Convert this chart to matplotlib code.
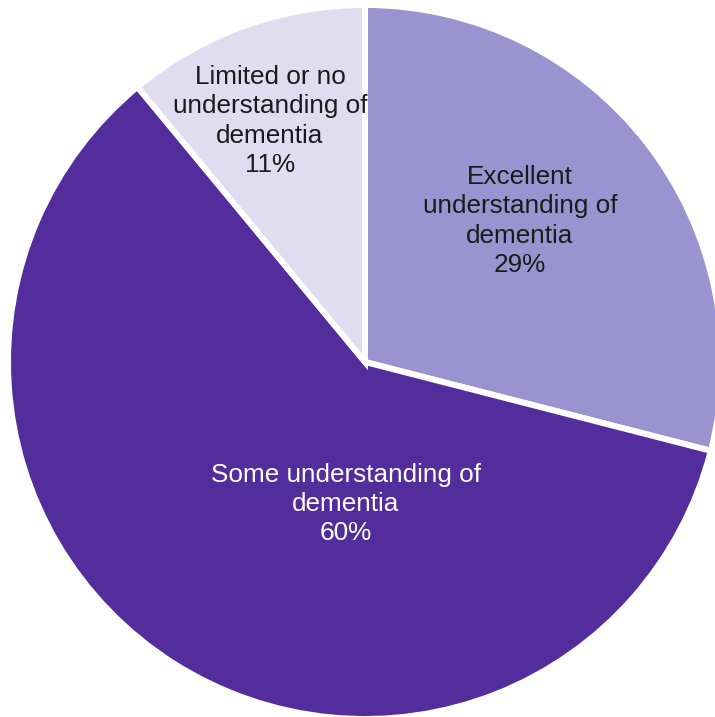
import matplotlib.pyplot as plt

labels = ['Excellent\nunderstanding of\ndementia', 'Some understanding of\ndementia', 'Limited or no\nunderstanding of\ndementia']
values = [29, 60, 11]
colors = ['#9B93CF', '#532D9B', '#E0DDF1']
text_colors = ['#1a1a1a', 'white', '#1a1a1a']
explode = [0.028, 0, 0]

# label positions in pixel coords (x, y from top)
label_pos = [(520, 221), (346, 504), (270, 121)]

W, H = 715, 717
fig = plt.figure(figsize=(W / 100, H / 100), dpi=100)
ax = fig.add_axes([0, 0, 1, 1])
ax.pie(values, colors=colors, startangle=90, counterclock=False, explode=explode,
       radius=357, center=(365, H - 362),
       wedgeprops=dict(edgecolor='white', linewidth=4.3))

for lab, v, (x, y), c in zip(labels, values, label_pos, text_colors):
    ax.text(x, H - y, lab + '\n' + str(v) + '%', ha='center', va='center',
            fontsize=18.8, color=c, family=['Liberation Sans', 'DejaVu Sans'],
            linespacing=1.27)

ax.set_xlim(0, W)
ax.set_ylim(0, H)
ax.set_aspect('equal')
ax.axis('off')
fig.savefig('out.png', dpi=100)
